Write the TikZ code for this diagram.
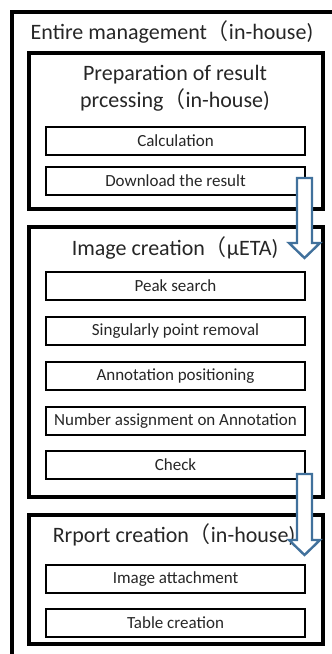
\documentclass[tikz,border=0pt]{standalone}
\usepackage{fontspec}
\setmainfont{Carlito}
\newfontfamily\cjk{Noto Sans CJK JP}
\definecolor{arrowblue}{RGB}{65,113,156}
\begin{document}
\begin{tikzpicture}[x=1pt,y=-1pt,
	task/.style={draw, line width=2pt, minimum width=259pt, minimum height=28pt, inner sep=0pt, font=\fontsize{17}{20}\selectfont, text=black!85},
	title/.style={font=\fontsize{22}{27}\selectfont, align=center, inner sep=0pt, text=black!85},
	group/.style={line width=3.2pt},
	blockarrow/.style={draw=arrowblue, fill=white, line width=2.4pt, line join=miter}]
	\useasboundingbox (0,0) rectangle (332,654);
	\clip (0,0) rectangle (332,654);
	
	%Entire management
	\draw[group] (12,12) rectangle (345,670);
	\node[title] (T0) at (172,32) {Entire management{\cjk （}in-house)};
	
	%Preparation
	\draw[group] (29,53) rectangle (323,209);
	\node[title] (T1) at (175,88) {Preparation of result\\prcessing{\cjk （}in-house)};
	\node[task] (P1) at (175.5,141) {Calculation};
	\node[task] (P2) at (175.5,181) {Download the result};
	
	%Image creation
	\draw[group] (29,227) rectangle (323,497);
	\node[title] (T2) at (175,248) {Image creation{\cjk （}µETA)};
	\node[task] (I1) at (175.5,286) {Peak search};
	\node[task] (I2) at (175.5,331) {Singularly point removal};
	\node[task] (I3) at (175.5,376) {Annotation positioning};
	\node[task] (I4) at (175.5,421) {Number assignment on Annotation};
	\node[task] (I5) at (175.5,465) {Check};
	
	%Report creation
	\draw[group] (29,515) rectangle (323,644);
	\node[title] (T3) at (174,535) {Rrport creation{\cjk （}in-house)};
	\node[task] (R1) at (175.5,579) {Image attachment};
	\node[task] (R2) at (175.5,623) {Table creation};
	
	%Block arrow
	\def\y{178}
	\draw[blockarrow] (297,\y) -- (312,\y) -- (312,\y+65) -- (320,\y+65) -- (304.5,\y+80) -- (289,\y+65) -- (297,\y+65) -- cycle;
	
	%Block arrow
	\def\y{474}
	\draw[blockarrow] (297,\y) -- (312,\y) -- (312,\y+66) -- (320,\y+66) -- (304.5,\y+81) -- (289,\y+66) -- (297,\y+66) -- cycle;
	
\end{tikzpicture}
\end{document}
